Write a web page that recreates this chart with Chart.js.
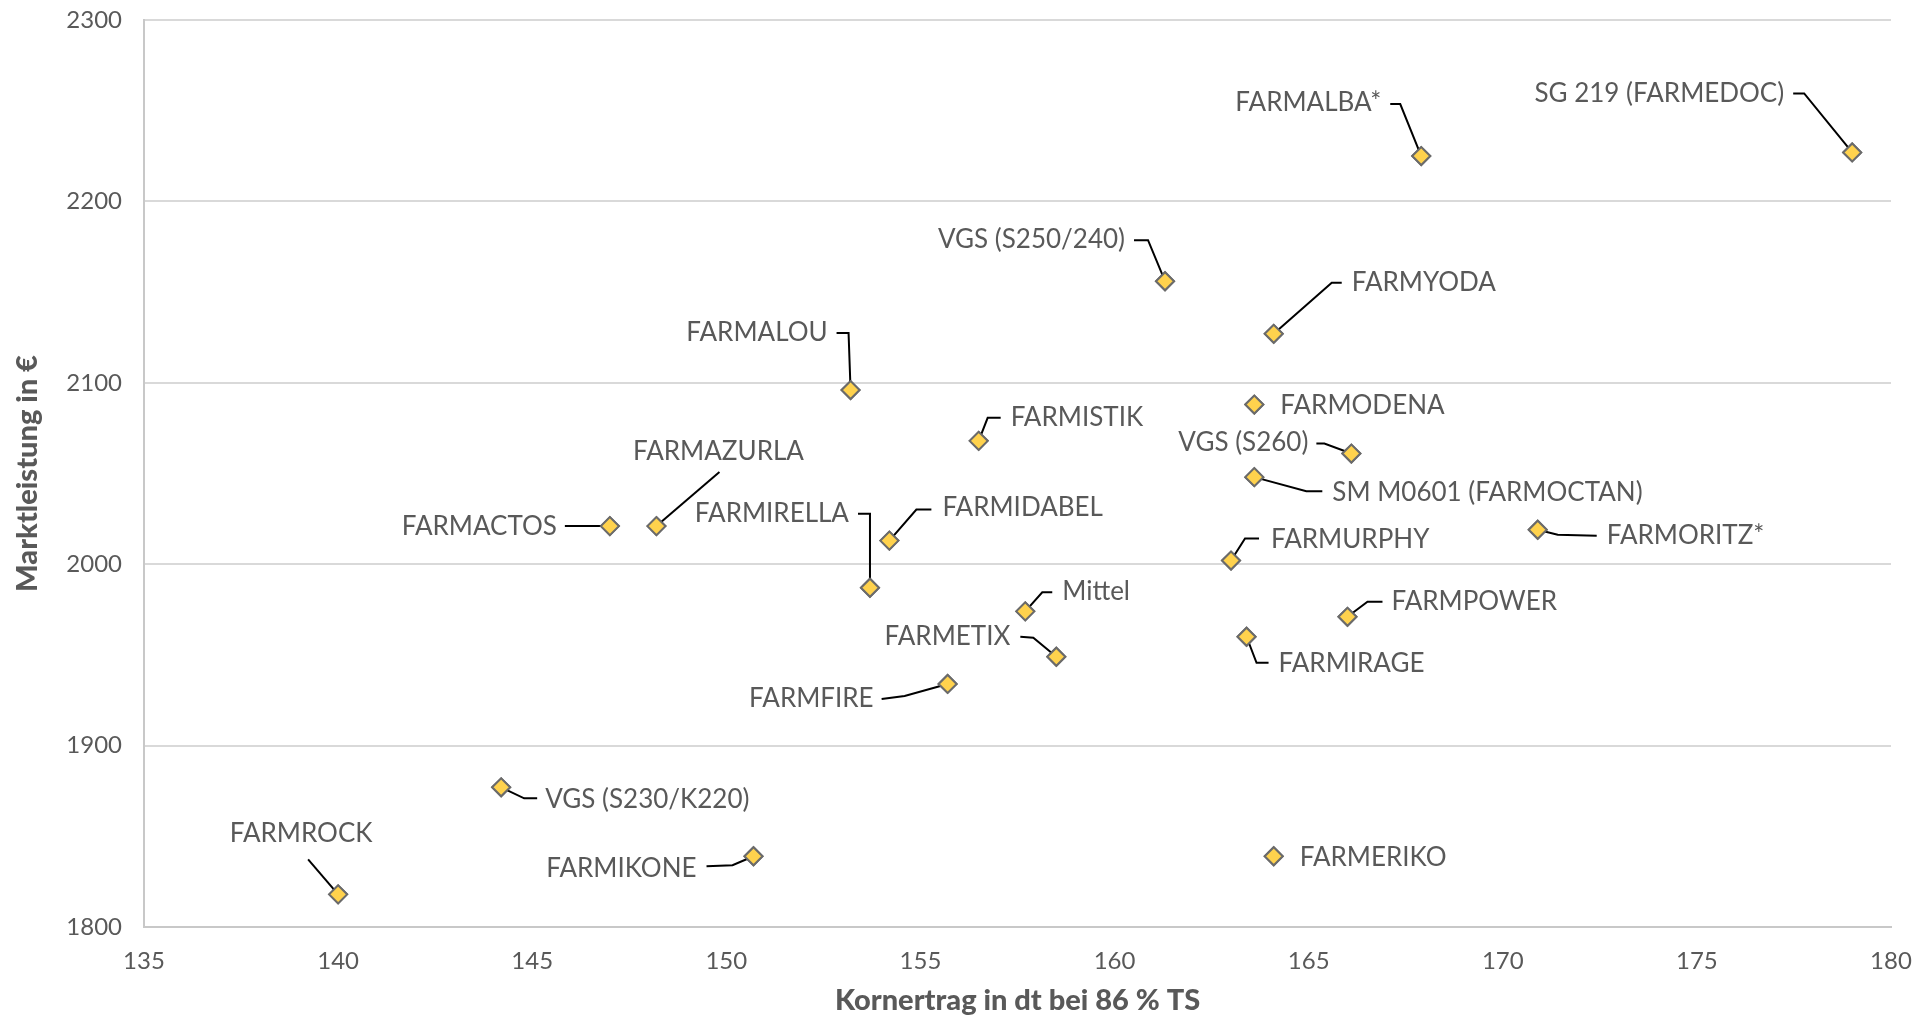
<!DOCTYPE html>
<html>
<head>
<meta charset="utf-8">
<script src="https://cdn.jsdelivr.net/npm/chart.js@4.4.1/dist/chart.umd.min.js"></script>
<style>
  html, body { margin: 0; padding: 0; background: #fff; }
  canvas { display: block; }
</style>
</head>
<body>
<canvas id="sortenChart" width="1928" height="1018"></canvas>
<script>
// Sorten: Kornertrag (dt bei 86 % TS) vs. Marktleistung (€)
const sorten = [
    'FARMROCK', 'VGS (S230/K220)', 'FARMIKONE', 'FARMACTOS', 'FARMAZURLA', 'FARMIRELLA',
    'FARMIDABEL', 'FARMALOU', 'FARMISTIK', 'FARMFIRE', 'Mittel', 'FARMETIX',
    'VGS (S250/240)', 'FARMYODA', 'FARMALBA*', 'SG 219 (FARMEDOC)', 'FARMODENA', 'VGS (S260)',
    'SM M0601 (FARMOCTAN)', 'FARMURPHY', 'FARMORITZ*', 'FARMPOWER', 'FARMIRAGE', 'FARMERIKO'
];
const kornertrag = [
    140.0, 144.2, 150.7, 147.0, 148.2, 153.7,
    154.2, 153.2, 156.5, 155.7, 157.7, 158.5,
    161.3, 164.1, 167.9, 179.0, 163.6, 166.1,
    163.6, 163.0, 170.9, 166.0, 163.4, 164.1
];
const marktleistung = [
    1818, 1877, 1839, 2021, 2021, 1987,
    2013, 2096, 2068, 1934, 1974, 1949,
    2156, 2127, 2225, 2227, 2088, 2061,
    2048, 2002, 2019, 1971, 1960, 1839
];
const xTicks = [135, 140, 145, 150, 155, 160, 165, 170, 175, 180];
const yTicks = [1800, 1900, 2000, 2100, 2200, 2300];

// label layout (pixel offsets from the point): text position, alignment, leader path
const labelLayout = [
    { t: [-37, -61], a: 'center', p: [[-30, -35]] },
    { t: [44, 12],   a: 'left',   p: [[23, 11], [36, 11]] },
    { t: [-57, 12],  a: 'right',  p: [[-21, 9], [-47, 10]] },
    { t: [-53, 1],   a: 'right',  p: [[-45, 0]] },
    { t: [62, -74],  a: 'center', p: [[63, -54]] },
    { t: [-21, -74], a: 'right',  p: [[0, -74], [-12, -74]] },
    { t: [53, -33],  a: 'left',   p: [[27, -31], [42, -31]] },
    { t: [-23, -57], a: 'right',  p: [[-2, -57], [-14, -57]] },
    { t: [32, -23],  a: 'left',   p: [[9, -23], [22, -23]] },
    { t: [-74, 15],  a: 'right',  p: [[-43, 12], [-66, 15]] },
    { t: [37, -20],  a: 'left',   p: [[17, -19], [27, -19]] },
    { t: [-46, -20], a: 'right',  p: [[-23, -19], [-36, -20]] },
    { t: [-40, -42], a: 'right',  p: [[-17, -41], [-31, -41]] },
    { t: [78, -51],  a: 'left',   p: [[58, -51], [68, -51]] },
    { t: [-40, -53], a: 'right',  p: [[-21, -52], [-31, -52]] },
    { t: [-68, -59], a: 'right',  p: [[-48, -59], [-59, -59]] },
    { t: [26, 1],    a: 'left',   p: [] },
    { t: [-43, -11], a: 'right',  p: [[-27, -10], [-35, -10]] },
    { t: [78, 15],   a: 'left',   p: [[52, 14], [68, 14]] },
    { t: [40, -21],  a: 'left',   p: [[14, -22], [28, -22]] },
    { t: [69, 6],    a: 'left',   p: [[20, 5], [59, 6]] },
    { t: [44, -15],  a: 'left',   p: [[20, -15], [35, -15]] },
    { t: [32, 27],   a: 'left',   p: [[10, 26], [22, 26]] },
    { t: [26, 1],    a: 'left',   p: [] }
];

const FONT = 'Lato, "Open Sans", sans-serif';
const GREY = '#595959';

const pointLabels = {
    id: 'pointLabels',
    afterDatasetsDraw(chart) {
        const ctx = chart.ctx;
        const meta = chart.getDatasetMeta(0);
        ctx.save();
        meta.data.forEach((pt, i) => {
            const lay = labelLayout[i];
            if (lay.p.length) {
                ctx.beginPath();
                ctx.moveTo(pt.x, pt.y);
                lay.p.forEach(d => ctx.lineTo(pt.x + d[0], pt.y + d[1]));
                ctx.strokeStyle = '#000';
                ctx.lineWidth = 2;
                ctx.stroke();
            }
        });
        // redraw markers over the leader lines
        meta.data.forEach(pt => pt.draw(ctx));
        ctx.font = '26px ' + FONT;
        ctx.fillStyle = GREY;
        ctx.textBaseline = 'middle';
        meta.data.forEach((pt, i) => {
            const lay = labelLayout[i];
            ctx.textAlign = lay.a;
            ctx.fillText(sorten[i], pt.x + lay.t[0], pt.y + lay.t[1]);
        });
        ctx.restore();
    }
};

new Chart(document.getElementById('sortenChart').getContext('2d'), {
    type: 'scatter',
    data: {
        datasets: [{
            label: 'Sorten',
            data: kornertrag.map((x, i) => ({ x: x, y: marktleistung[i] })),
            pointStyle: 'rectRot',
            pointRadius: 9,
            pointBackgroundColor: '#FFD24D',
            pointBorderColor: '#6b6b6b',
            pointBorderWidth: 2
        }]
    },
    options: {
        responsive: false,
        animation: false,
        devicePixelRatio: 1,
        layout: { padding: { top: 20, right: 37, left: 0, bottom: 0 } },
        plugins: {
            legend: { display: false },
            tooltip: { enabled: false }
        },
        scales: {
            x: {
                type: 'linear',
                min: 135,
                max: 180,
                afterBuildTicks: axis => { axis.ticks = xTicks.map(v => ({ value: v })); },
                afterFit: axis => {
                    axis.height = 91;
                    axis.paddingLeft = 0;
                    axis.paddingRight = 0;
                },
                grid: { display: false, drawTicks: false },
                border: { color: '#c8c8c8', width: 2 },
                ticks: { color: GREY, font: { family: FONT, size: 24 }, padding: 20, callback: v => String(v) },
                title: {
                    display: true,
                    text: 'Kornertrag in dt bei 86 % TS',
                    color: GREY,
                    font: { family: FONT, size: 29, weight: '900' },
                    padding: { top: 0, bottom: 0 }
                }
            },
            y: {
                type: 'linear',
                min: 1800,
                max: 2300,
                afterBuildTicks: axis => { axis.ticks = yTicks.map(v => ({ value: v })); },
                afterFit: axis => {
                    axis.width = 144;
                    axis.paddingTop = 0;
                    axis.paddingBottom = 0;
                },
                grid: { color: '#d9d9d9', lineWidth: 2, drawTicks: false },
                border: { color: '#c8c8c8', width: 2 },
                ticks: { color: GREY, font: { family: FONT, size: 24 }, padding: 22, callback: v => String(v) },
                title: {
                    display: true,
                    text: 'Marktleistung in €',
                    color: GREY,
                    font: { family: FONT, size: 29, weight: '900' },
                    padding: { top: 10, bottom: 0 }
                }
            }
        }
    },
    plugins: [pointLabels]
});
</script>
</body>
</html>
